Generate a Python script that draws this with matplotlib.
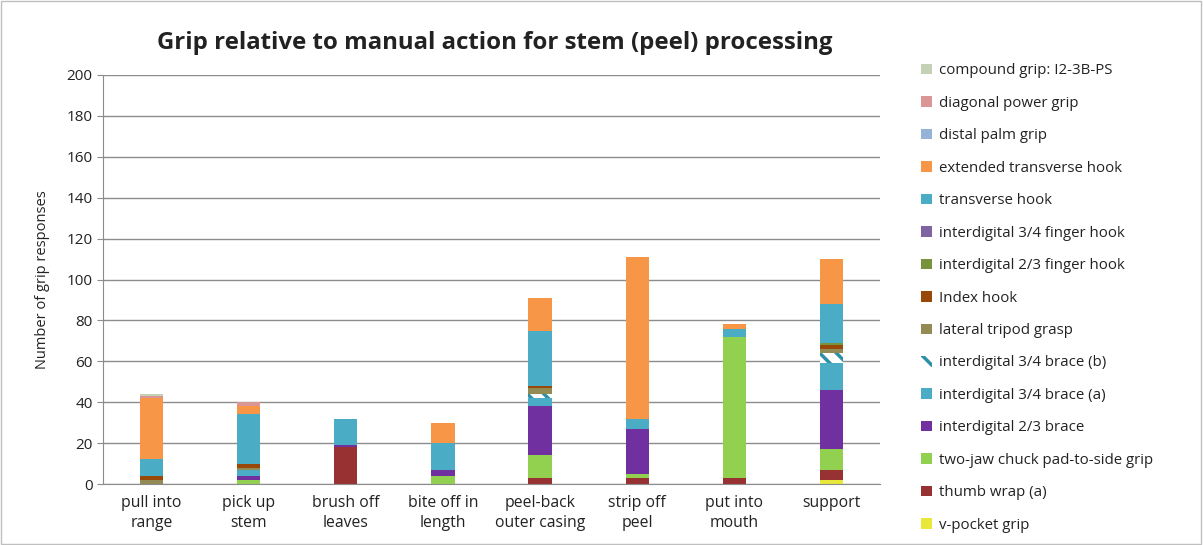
import matplotlib
matplotlib.use("Agg")
import matplotlib.pyplot as plt
from matplotlib.patches import Rectangle
import numpy as np

plt.rcParams['font.family'] = ['Open Sans', 'DejaVu Sans']
plt.rcParams['hatch.linewidth'] = 2.5

categories = ["pull into\nrange", "pick up\nstem", "brush off\nleaves", "bite off in\nlength",
              "peel-back\nouter casing", "strip off\npeel", "put into\nmouth", "support"]

# series, bottom to top
v_pocket         = [0, 0, 0, 0, 0, 0, 0, 2]
thumb_wrap       = [0, 0, 18, 0, 3, 3, 3, 5]
two_jaw          = [0, 2, 0, 4, 11, 2, 69, 10]
id23_brace       = [0, 2, 1, 3, 24, 22, 0, 29]
id34_brace_a     = [0, 3, 0, 2, 4, 3, 0, 13]
id34_brace_b     = [0, 0, 0, 0, 2, 0, 0, 5]
lateral_tripod   = [2, 1, 0, 0, 3, 0, 0, 2]
index_hook       = [2, 2, 0, 0, 1, 0, 0, 2]
id23_finger_hook = [0, 0, 0, 0, 0, 0, 0, 1]
id34_finger_hook = [0, 0, 0, 0, 0, 0, 0, 0]
transverse_hook  = [8, 24, 13, 11, 27, 2, 4, 19]
ext_transverse   = [30, 4, 0, 10, 16, 79, 2, 22]
distal_palm      = [0, 0, 0, 0, 0, 0, 0, 0]
diagonal_power   = [1, 2, 0, 0, 0, 0, 0, 0]
compound_grip    = [1, 0, 0, 0, 0, 0, 0, 0]

series = [
    ("v-pocket grip", v_pocket, "#E8E83A", None),
    ("thumb wrap (a)", thumb_wrap, "#983232", None),
    ("two-jaw chuck pad-to-side grip", two_jaw, "#92D050", None),
    ("interdigital 2/3 brace", id23_brace, "#7030A0", None),
    ("interdigital 3/4 brace (a)", id34_brace_a, "#4BACC6", None),
    ("interdigital 3/4 brace (b)", id34_brace_b, "white", "\\\\"),
    ("lateral tripod grasp", lateral_tripod, "#948A54", None),
    ("Index hook", index_hook, "#984807", None),
    ("interdigital 2/3 finger hook", id23_finger_hook, "#77933C", None),
    ("interdigital 3/4 finger hook", id34_finger_hook, "#8064A2", None),
    ("transverse hook", transverse_hook, "#4BACC6", None),
    ("extended transverse hook", ext_transverse, "#F79646", None),
    ("distal palm grip", distal_palm, "#95B3D7", None),
    ("diagonal power grip", diagonal_power, "#D99694", None),
    ("compound grip: I2-3B-PS", compound_grip, "#C4D1B5", None),
]

fig = plt.figure(figsize=(12.03, 5.45), dpi=100)
ax = fig.add_axes([0.0856, 0.1119, 0.6459, 0.7505])

x = np.arange(len(categories))
bottom = np.zeros(len(categories))
handles = []
for name, vals, color, hatch in series:
    vals = np.array(vals, dtype=float)
    if hatch:
        b = ax.bar(x, vals, 0.24, bottom=bottom, color=color, edgecolor="#2E8FA8",
                   hatch=hatch, linewidth=0, label=name)
    else:
        b = ax.bar(x, vals, 0.24, bottom=bottom, color=color, linewidth=0, label=name)
    handles.append(b)
    bottom += vals

ax.set_xlim(-0.5, len(categories) - 0.5)
ax.set_ylim(0, 200)
ax.set_yticks(np.arange(0, 201, 20))
ax.yaxis.grid(True, color="#8c8c8c", linewidth=1)
ax.set_axisbelow(True)
ax.set_xticks(x)
ax.set_xticklabels(categories, fontsize=11.3, color="#222222", linespacing=1.35)
ax.tick_params(axis="y", labelsize=11, colors="#222222", length=4, color="#8c8c8c")
ax.tick_params(axis="x", length=0, pad=8)
for s in ["top", "right"]:
    ax.spines[s].set_visible(False)
ax.spines["left"].set_color("#8c8c8c")
ax.spines["bottom"].set_color("#8c8c8c")
ax.set_ylabel("Number of grip responses", fontsize=10.5, color="#222222", labelpad=12)

fig.text(0.411, 0.922, "Grip relative to manual action for stem (peel) processing",
         ha="center", va="center", fontsize=17.3, fontweight="bold", color="#222222")

leg = fig.legend(handles[::-1], [s[0] for s in series[::-1]], loc="upper left",
                 bbox_to_anchor=(0.761, 0.895), frameon=False, fontsize=10.8,
                 labelspacing=1.165, handlelength=0.7, handleheight=0.7, handletextpad=0.45,
                 borderaxespad=0)
for t in leg.get_texts():
    t.set_color("#222222")

fig.patches.append(Rectangle((0.001, 0.002), 0.997, 0.996, transform=fig.transFigure,
                             fill=False, edgecolor="#bfbfbf", linewidth=1))

fig.savefig("out.png", dpi=100)
